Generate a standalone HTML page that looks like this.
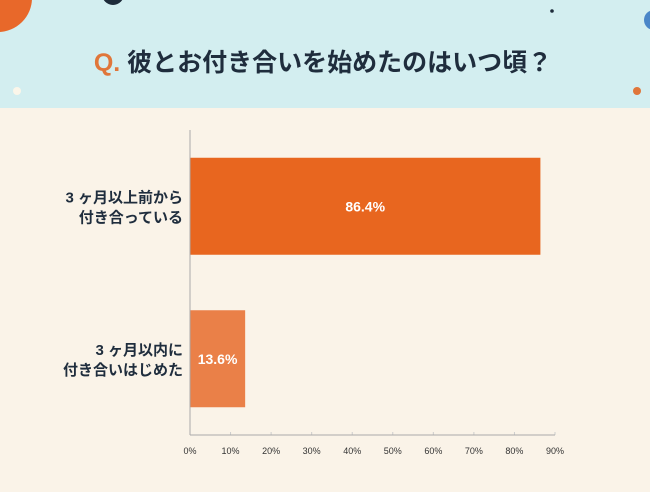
<!DOCTYPE html>
<html><head><meta charset="utf-8"><style>
body{margin:0;width:650px;height:487px;overflow:hidden;background:#faf3e8;font-family:"Liberation Sans","Noto Sans CJK JP",sans-serif;}
</style></head><body>
<svg width="650" height="487">
<rect x="0" y="0" width="650" height="108" fill="#d3eef0"/>
<circle cx="-2" cy="-2" r="34" fill="#e8682a"/>
<circle cx="113" cy="-6" r="11" fill="#1d2b3a"/>
<circle cx="654" cy="20" r="10" fill="#4a86c8"/>
<circle cx="637" cy="91" r="4" fill="#e0763a"/>
<circle cx="17" cy="91" r="4" fill="#fbf6ea"/>
<circle cx="552" cy="11" r="1.8" fill="#1d2b3a"/>
<text x="323" y="71" text-anchor="middle" font-size="25" font-weight="bold" fill="#1f2d3d"><tspan fill="#e0763a">Q.</tspan> 彼とお付き合いを始めたのはいつ頃？</text>
<g id="plot"></g>
</svg>
<script>
const categories=[["3 ヶ月以上前から","付き合っている"],["3 ヶ月以内に","付き合いはじめた"]];
const values=[86.4,13.6];
const ticks=[0,10,20,30,40,50,60,70,80,90];
const colors=["#e8661f","#ea8048"];
const x0=190,x1=555,yTop=130,yBot=435,maxV=90;
const xs=v=>x0+(x1-x0)*v/maxV;
const bandH=(yBot-yTop)/categories.length;
const g=document.getElementById('plot');
const NS="http://www.w3.org/2000/svg";
function mk(t,a){const e=document.createElementNS(NS,t);for(const k in a)e.setAttribute(k,a[k]);g.appendChild(e);return e;}
ticks.forEach(t=>{
 const l=mk('line',{x1:xs(t),x2:xs(t),y1:yBot-3,y2:yBot,stroke:'#ccc'});
 
 
 const tx=mk('text',{x:xs(t),y:yBot+19,'text-anchor':'middle','font-size':9,fill:'#333'});
 tx.textContent=t+'%';
 
 
});
const ax=mk('line',{x1:x0,x2:x1,y1:yBot,y2:yBot,stroke:'#aaa'});


values.forEach((v,i)=>{
 const cy=yTop+bandH*(i+0.5);
 const h=97;
 const r=mk('rect',{x:x0,y:cy-h/2,width:xs(v)-x0,height:h,fill:colors[i]});
 
 
 const vt=mk('text',{x:(x0+xs(v))/2,y:cy+5,'text-anchor':'middle','font-size':14,'font-weight':'bold',fill:'#fff'});
 vt.textContent=v.toFixed(1)+'%';
 
 
 categories[i].forEach((s,j)=>{
  const c=mk('text',{x:183,y:cy-4+j*20,'text-anchor':'end','font-size':15,'font-weight':'bold',fill:'#1f2d3d'});
  c.textContent=s;
  
  
 });
});
const ya=mk('line',{x1:x0,x2:x0,y1:yTop,y2:yBot,stroke:'#aaa'});


</script>
</body></html>
